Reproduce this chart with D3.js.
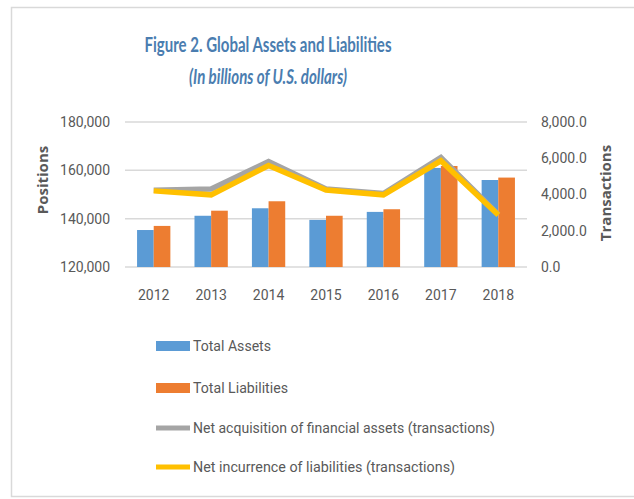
<!DOCTYPE html>
<html>
<head>
<meta charset="utf-8">
<script src="https://cdn.jsdelivr.net/npm/d3@7"></script>
<style>
  body { margin:0; background:#fff; }
  text { font-family: Roboto, "Open Sans", sans-serif; }
</style>
</head>
<body>
<div id="chart"></div>
<script>
// data
var years = ["2012","2013","2014","2015","2016","2017","2018"];
var totalAssets = [135300, 141200, 144300, 139500, 142800, 161000, 156000];
var totalLiabilities = [137000, 143300, 147200, 141200, 143900, 161800, 157000];
var netAcquisition = [4230, 4300, 5820, 4300, 4050, 6040, 2900];
var netIncurrence = [4200, 3980, 5600, 4250, 3980, 5860, 2870];
var leftTicks = [120000, 140000, 160000, 180000];
var rightTicks = [0, 2000, 4000, 6000, 8000];

var W = 634, H = 499;
var svg = d3.select("#chart").append("svg")
    .attr("width", W).attr("height", H);

// outer frame
svg.append("rect")
    .attr("x", 11.5).attr("y", 7.5)
    .attr("width", 640).attr("height", 489)
    .attr("fill", "none").attr("stroke", "#d9d9d9").attr("stroke-width", 1.5);

// titles
svg.append("text")
    .attr("x", 268).attr("y", 52)
    .attr("text-anchor", "middle")
    .attr("fill", "#4a7db0")
    .style("font-family", "Lato, sans-serif")
    .style("font-weight", "bold").style("font-size", "20px")
    .attr("textLength", 247).attr("lengthAdjust", "spacingAndGlyphs")
    .text("Figure 2. Global Assets and Liabilities");
svg.append("text")
    .attr("x", 268).attr("y", 84)
    .attr("text-anchor", "middle")
    .attr("fill", "#4a7db0")
    .style("font-family", "Lato, sans-serif")
    .style("font-weight", "bold").style("font-style", "italic").style("font-size", "20px")
    .attr("textLength", 158).attr("lengthAdjust", "spacingAndGlyphs")
    .text("(In billions of U.S. dollars)");

// scales
var x0 = d3.scaleBand().domain(years).range([125, 527])
    .paddingInner(0.42).paddingOuter(0.21);
var x1 = d3.scaleBand().domain(["a","l"]).range([0, x0.bandwidth()]);
var yL = d3.scaleLinear().domain([120000, 180000]).range([267, 122]);
var yR = d3.scaleLinear().domain([0, 8000]).range([267, 122]);

// gridlines
svg.append("g").selectAll("line").data(leftTicks).enter().append("line")
    .attr("x1", 125).attr("x2", 527)
    .attr("y1", function(d){ return yL(d); })
    .attr("y2", function(d){ return yL(d); })
    .attr("stroke", "#d9d9d9").attr("stroke-width", 1.5);

// left axis
var fmtL = d3.format(",");
var gl = svg.append("g").attr("transform", "translate(116,0)")
    .call(d3.axisLeft(yL).tickValues(leftTicks).tickFormat(fmtL).tickSize(0).tickPadding(6));
gl.select(".domain").remove();
gl.selectAll("text").style("font-size", "14px").attr("fill", "#595959");

// right axis
var fmtR = d3.format(",.1f");
var gr = svg.append("g").attr("transform", "translate(535,0)")
    .call(d3.axisRight(yR).tickValues(rightTicks).tickFormat(fmtR).tickSize(0).tickPadding(6));
gr.select(".domain").remove();
gr.selectAll("text").style("font-size", "14px").attr("fill", "#595959");

// x axis labels
var gx = svg.append("g").attr("transform", "translate(0,280)")
    .call(d3.axisBottom(x0).tickSize(0).tickPadding(10));
gx.select(".domain").remove();
gx.selectAll("text").style("font-size", "14px").attr("fill", "#595959");

// axis titles
svg.append("text")
    .attr("transform", "translate(48,180) rotate(-90)")
    .attr("text-anchor", "middle")
    .attr("fill", "#595959")
    .style("font-family", "'Open Sans', sans-serif")
    .style("font-weight", "bold").style("font-size", "15px")
    .text("Positions");
svg.append("text")
    .attr("transform", "translate(611,193) rotate(-90)")
    .attr("text-anchor", "middle")
    .attr("fill", "#595959")
    .style("font-family", "'Open Sans', sans-serif")
    .style("font-weight", "bold").style("font-size", "15px")
    .text("Transactions");

// bars
var barData = years.map(function(y, i) {
  return { year: y, vals: [
    { key: "a", v: totalAssets[i], c: "#5b9bd5" },
    { key: "l", v: totalLiabilities[i], c: "#ed7d31" } ] };
});
svg.append("g").selectAll("g").data(barData).enter().append("g")
    .attr("transform", function(d){ return "translate(" + x0(d.year) + ",0)"; })
  .selectAll("rect").data(function(d){ return d.vals; }).enter().append("rect")
    .attr("x", function(d){ return x1(d.key); })
    .attr("width", x1.bandwidth())
    .attr("y", function(d){ return yL(d.v); })
    .attr("height", function(d){ return yL(120000) - yL(d.v); })
    .attr("fill", function(d){ return d.c; });

// lines
var line = d3.line()
    .x(function(d, i){ return x0(years[i]) + x0.bandwidth() / 2; })
    .y(function(d){ return yR(d); });
svg.append("path").datum(netAcquisition)
    .attr("d", line).attr("fill", "none")
    .attr("stroke", "#a5a5a5").attr("stroke-width", 5.5);
svg.append("path").datum(netIncurrence)
    .attr("d", line).attr("fill", "none")
    .attr("stroke", "#ffc000").attr("stroke-width", 5.5);

// legend
var legend = [
  { name: "Total Assets", c: "#5b9bd5", type: "bar", y: 346, len: 78 },
  { name: "Total Liabilities", c: "#ed7d31", type: "bar", y: 388, len: 95 },
  { name: "Net acquisition of financial assets (transactions)", c: "#a5a5a5", type: "line", y: 428, len: 302 },
  { name: "Net incurrence of liabilities (transactions)", c: "#ffc000", type: "line", y: 467, len: 262 }
];
var lg = svg.append("g").selectAll("g").data(legend).enter().append("g")
    .attr("transform", function(d){ return "translate(156," + d.y + ")"; });
lg.append("rect")
    .attr("x", 0).attr("width", 34)
    .attr("y", function(d){ return d.type === "bar" ? -5 : -2.5; })
    .attr("height", function(d){ return d.type === "bar" ? 10 : 5; })
    .attr("fill", function(d){ return d.c; });
lg.append("text")
    .attr("x", 37).attr("dy", "0.35em")
    .attr("fill", "#595959")
    .style("font-size", "15px")
    .attr("textLength", function(d){ return d.len; })
    .attr("lengthAdjust", "spacingAndGlyphs")
    .text(function(d){ return d.name; });
</script>
</body>
</html>
